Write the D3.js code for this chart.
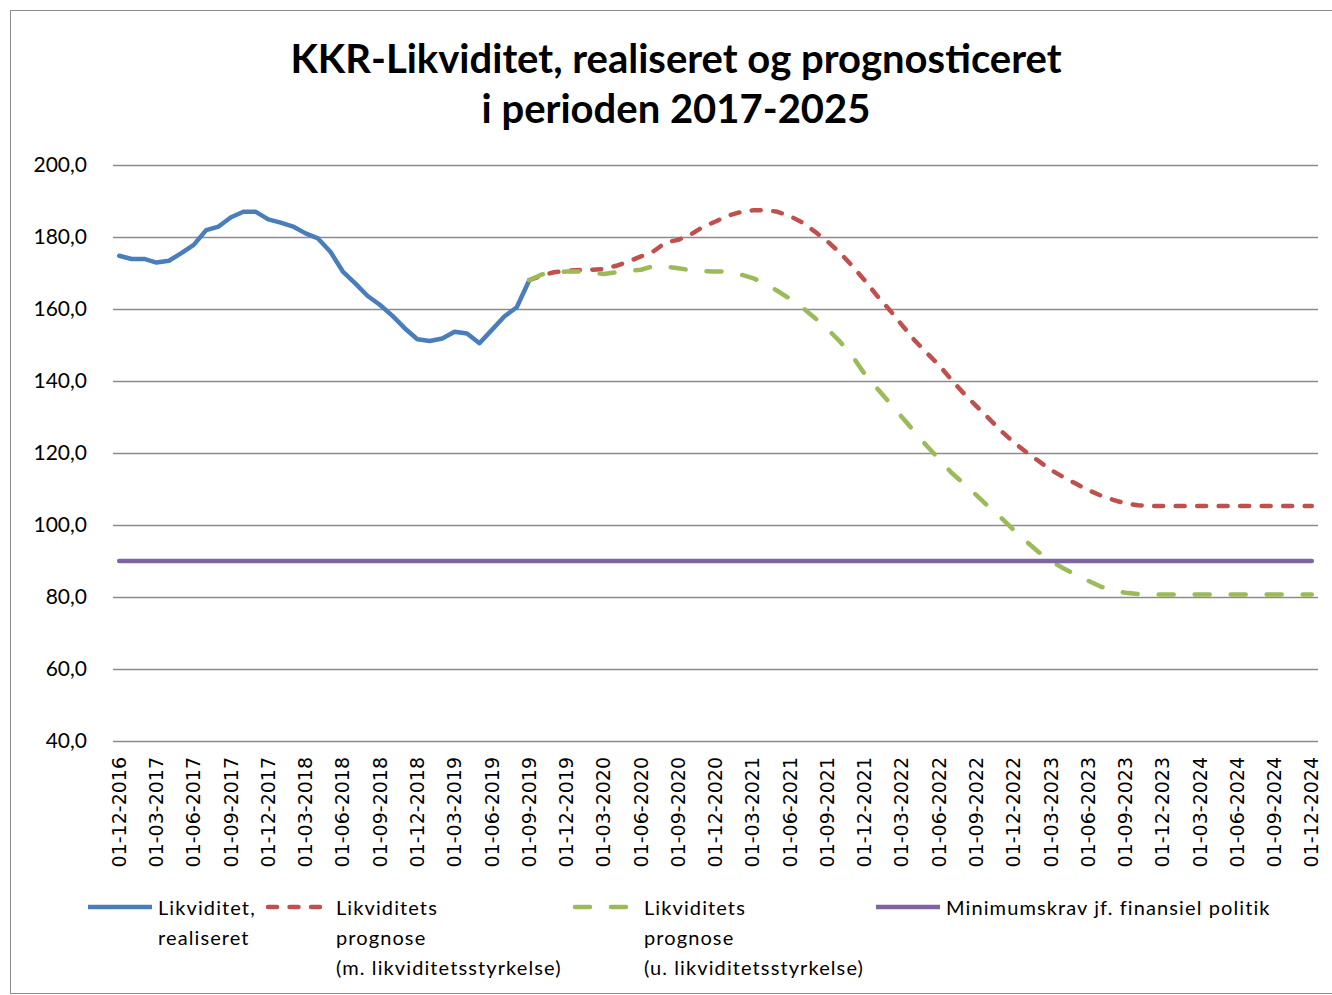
<!DOCTYPE html>
<meta charset="utf-8">
<script src="https://d3js.org/d3.v7.min.js"></script>
<style>
  body { margin: 0; background: #fff; }
</style>
<div id="chart"></div>
<script>

// months on the category axis (Dec 2016 .. Dec 2024), labels every quarter
const tickLabels = ["01-12-2016","01-03-2017","01-06-2017","01-09-2017","01-12-2017",
  "01-03-2018","01-06-2018","01-09-2018","01-12-2018","01-03-2019","01-06-2019",
  "01-09-2019","01-12-2019","01-03-2020","01-06-2020","01-09-2020","01-12-2020",
  "01-03-2021","01-06-2021","01-09-2021","01-12-2021","01-03-2022","01-06-2022",
  "01-09-2022","01-12-2022","01-03-2023","01-06-2023","01-09-2023","01-12-2023",
  "01-03-2024","01-06-2024","01-09-2024","01-12-2024"];

const yTicks = [40, 60, 80, 100, 120, 140, 160, 180, 200];

// realised, monthly from 01-12-2016
const realiseret = [174.8, 173.9, 173.9, 172.9, 173.4, 175.5, 177.8, 181.9, 182.9, 185.5,
  187.0, 187.0, 184.9, 184.0, 182.9, 181.0, 179.6, 175.9, 170.4, 167.1,
  163.6, 161.1, 158.1, 154.6, 151.6, 151.1, 151.8, 153.7, 153.2, 150.5,
  154.2, 157.9, 160.5, 167.9];

// forecasts, monthly from 01-09-2019
const prognoseMed = [168.0, 169.3, 170.2, 170.6, 170.8, 170.9, 171.1, 172.0, 173.2, 174.6,
  176.0, 178.5, 179.2, 180.7, 182.8, 184.3, 185.9, 186.9, 187.4, 187.5,
  187.0, 185.8, 184.0, 181.5, 178.8, 175.7, 172.0, 168.0, 163.7, 159.8,
  155.6, 151.4, 147.8, 144.4, 140.3, 136.5, 133.0, 129.6, 126.1, 123.0,
  120.3, 117.8, 115.3, 113.3, 111.5, 109.7, 108.2, 107.0, 106.0, 105.5,
  105.3, 105.3, 105.3, 105.3, 105.3, 105.3, 105.3, 105.3, 105.3, 105.3,
  105.3, 105.3, 105.3, 105.3];

const prognoseUden = [168.0, 169.6, 170.1, 170.4, 170.4, 170.1, 169.7, 170.2, 170.6, 170.9,
  171.9, 171.8, 171.3, 170.8, 170.5, 170.4, 170.4, 169.6, 168.6, 167.1,
  165.0, 162.8, 160.4, 157.5, 154.5, 151.0, 147.0, 142.0, 138.0, 134.0,
  130.0, 126.0, 122.0, 118.3, 114.5, 111.5, 108.3, 105.0, 102.0, 98.6,
  95.5, 92.5, 90.0, 88.0, 86.2, 84.5, 82.9, 81.8, 81.2, 80.8,
  80.7, 80.7, 80.7, 80.7, 80.7, 80.7, 80.7, 80.7, 80.7, 80.7,
  80.7, 80.7, 80.7, 80.7];

const minimumskrav = 90;

const parse = d3.timeParse("%d-%m-%Y");
const fmt = d3.timeFormat("%d-%m-%Y");
const months = d3.timeMonth.range(parse(tickLabels[0]), d3.timeMonth.offset(parse(tickLabels[tickLabels.length - 1]), 1));
const monthKeys = months.map(fmt);

const series = [
  {name: ["Likviditet,", "realiseret"], color: "#4a7ebb", dash: null, start: 0, values: realiseret},
  {name: ["Likviditets", "prognose", "(m. likviditetsstyrkelse)"], color: "#c0504d", dash: "9,12.5", start: monthKeys.indexOf("01-09-2019"), values: prognoseMed},
  {name: ["Likviditets", "prognose", "(u. likviditetsstyrkelse)"], color: "#9bbb59", dash: "15,21", start: monthKeys.indexOf("01-09-2019"), values: prognoseUden},
  {name: ["Minimumskrav jf. finansiel politik"], color: "#8064a2", dash: null, start: 0, values: monthKeys.map(() => minimumskrav)}
];

const W = 1332, H = 995;
const plot = {left: 113, right: 1318, top: 165, bottom: 741};

const svg = d3.select("#chart").append("svg")
  .attr("width", W).attr("height", H)
  .style("font-family", "Lato, 'Open Sans', sans-serif");

// outer chart border
svg.append("rect")
  .attr("x", 10.5).attr("y", 10.5)
  .attr("width", W - 10).attr("height", H - 12)
  .attr("fill", "#fff").attr("stroke", "#8c8c8c");

// title
const title = svg.append("text")
  .attr("text-anchor", "middle")
  .style("font-weight", "bold").style("font-size", "40px").attr("fill", "#000");
title.append("tspan").attr("x", 676).attr("y", 73).text("KKR-Likviditet, realiseret og prognosticeret");
title.append("tspan").attr("x", 676).attr("y", 123).text("i perioden 2017-2025");

const x = d3.scaleBand().domain(monthKeys).range([plot.left, plot.right]);
const cx = k => x(k) + x.bandwidth() / 2;
const y = d3.scaleLinear().domain([40, 200]).range([plot.bottom, plot.top]);

// y axis with gridlines
svg.append("g")
  .attr("transform", `translate(${plot.left},0)`)
  .call(d3.axisLeft(y).tickValues(yTicks).tickSize(-(plot.right - plot.left)).tickPadding(26)
    .tickFormat(d => d3.format(".1f")(d).replace(".", ",")))
  .call(g => g.select(".domain").remove())
  .call(g => g.selectAll(".tick line").attr("stroke", "#8c8c8c").attr("stroke-width", 1.5))
  .call(g => g.selectAll(".tick text").attr("fill", "#000")
    .style("font-size", "21px").style("font-family", "Lato, sans-serif"));

// x axis, labels every third month
svg.append("g")
  .attr("transform", `translate(0,${plot.bottom})`)
  .call(d3.axisBottom(x).tickValues(tickLabels).tickSize(0).tickPadding(0))
  .call(g => g.select(".domain").remove())
  .call(g => g.selectAll(".tick text")
    .attr("transform", "rotate(-90)")
    .attr("text-anchor", "end")
    .attr("x", -16).attr("y", 0).attr("dy", "0.35em")
    .attr("fill", "#000")
    .style("font-size", "19px").style("font-family", "'DejaVu Sans', sans-serif"));

// lines
const line = d3.line().x(d => cx(d.k)).y(d => y(d.v));
series.forEach(s => {
  const pts = s.values.map((v, i) => ({k: monthKeys[s.start + i], v: v}));
  svg.append("path")
    .datum(pts)
    .attr("d", line)
    .attr("fill", "none")
    .attr("stroke", s.color)
    .attr("stroke-width", 4.5)
    .attr("stroke-linejoin", "round")
    .attr("stroke-linecap", "round")
    .attr("stroke-dasharray", s.dash);
});

// legend
const legendX = [88, 268, 575, 876];
const legendW = [64, 57, 57, 64];
const legendTextX = [158, 336, 644, 946];
series.forEach((s, i) => {
  const g = svg.append("g");
  g.append("line")
    .attr("x1", legendX[i]).attr("x2", legendX[i] + legendW[i])
    .attr("y1", 907).attr("y2", 907)
    .attr("stroke", s.color).attr("stroke-width", 4.5)
    .attr("stroke-linecap", s.dash ? "round" : "butt")
    .attr("stroke-dasharray", s.dash);
  s.name.forEach((t, j) => {
    g.append("text")
      .attr("x", legendTextX[i])
      .attr("y", 915 + j * 30)
      .attr("fill", "#000")
      .style("font-size", "20px")
      .style("letter-spacing", "1.1px")
      .text(t);
  });
});

</script>
